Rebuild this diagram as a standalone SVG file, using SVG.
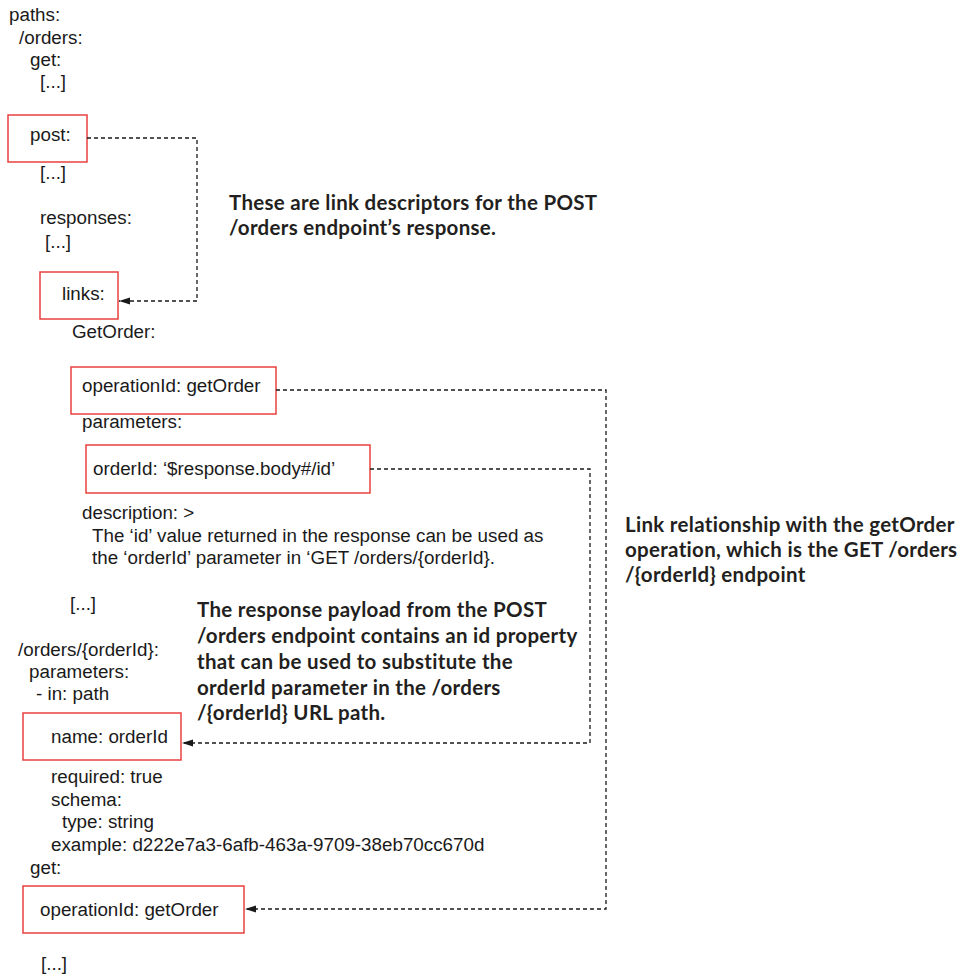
<svg xmlns="http://www.w3.org/2000/svg" width="961" height="978" viewBox="0 0 961 978">
<defs>
<style>
.c{font-family:"Liberation Sans",Arial,sans-serif;font-size:18.8px;fill:#1a1a1a}
.b{font-family:Lato,"Open Sans",sans-serif;font-weight:700;font-size:20.5px;letter-spacing:0.3px;fill:#231f20}
.box{fill:none;stroke:#e8403f;stroke-width:1.5}
.con{fill:none;stroke:#1a1a1a;stroke-width:1.3;stroke-dasharray:4 3}
</style>
<marker id="ah" markerWidth="12" markerHeight="8" refX="11" refY="4" orient="auto" markerUnits="userSpaceOnUse">
<path d="M0,0.5 L11,4 L0,7.5 Z" fill="#1a1a1a"/>
</marker>
</defs>
<rect width="961" height="978" fill="#fff"/>

<g id="code">
<text class="c" x="9" y="21">paths:</text>
<text class="c" x="19" y="44">/orders:</text>
<text class="c" x="30" y="66">get:</text>
<text class="c" x="40" y="88">[...]</text>
<text class="c" x="40" y="179">[...]</text>
<text class="c" x="40" y="224">responses:</text>
<text class="c" x="45" y="248">[...]</text>
<text class="c" x="72" y="338">GetOrder:</text>
<text class="c" x="82" y="428">parameters:</text>
<text class="c" x="82" y="519">description: &gt;</text>
<text class="c" x="92" y="542">The ‘id’ value returned in the response can be used as</text>
<text class="c" x="92" y="564">the ‘orderId’ parameter in ‘GET /orders/{orderId}.</text>
<text class="c" x="70" y="610">[...]</text>
<text class="c" x="18" y="656">/orders/{orderId}:</text>
<text class="c" x="29" y="678">parameters:</text>
<text class="c" x="36" y="700">- in: path</text>
<text class="c" x="51" y="783">required: true</text>
<text class="c" x="51" y="806">schema:</text>
<text class="c" x="62" y="828">type: string</text>
<text class="c" x="51" y="851">example: d222e7a3-6afb-463a-9709-38eb70cc670d</text>
<text class="c" x="30" y="874">get:</text>
<text class="c" x="41" y="970">[...]</text>
</g>

<g id="post">
<rect class="box" x="8" y="115" width="79" height="47"/>
<text class="c" x="30" y="141">post:</text>
</g>

<g id="links">
<rect class="box" x="40" y="272" width="78" height="47"/>
<text class="c" x="62" y="300">links:</text>
</g>

<g id="link-operationId">
<rect class="box" x="71" y="367" width="205" height="47"/>
<text class="c" x="82" y="392">operationId: getOrder</text>
</g>

<g id="link-orderId">
<rect class="box" x="86" y="445" width="284" height="48"/>
<text class="c" x="93" y="475">orderId: ‘$response.body#/id’</text>
</g>

<g id="param-name">
<rect class="box" x="23" y="713" width="158" height="47"/>
<text class="c" x="51" y="743">name: orderId</text>
</g>

<g id="get-operationId">
<rect class="box" x="23" y="886" width="221" height="47"/>
<text class="c" x="40" y="916">operationId: getOrder</text>
</g>

<g id="note-links">
<text class="b" x="229" y="209.5">These are link descriptors for the POST</text>
<text class="b" x="229" y="234.5">/orders endpoint’s response.</text>
</g>

<g id="note-link-relationship">
<text class="b" x="625" y="532">Link relationship with the getOrder</text>
<text class="b" x="625" y="557">operation, which is the GET /orders</text>
<text class="b" x="625" y="582">/{orderId} endpoint</text>
</g>

<g id="note-payload">
<text class="b" x="197" y="617">The response payload from the POST</text>
<text class="b" x="197" y="643">/orders endpoint contains an id property</text>
<text class="b" x="197" y="669">that can be used to substitute the</text>
<text class="b" x="197" y="694.5">orderId parameter in the /orders</text>
<text class="b" x="197" y="720">/{orderId} URL path.</text>
</g>

<g id="connectors">
<path class="con" d="M87,138 H197 V301 H119" marker-end="url(#ah)"/>
<path class="con" d="M276,390 H606 V909 H245" marker-end="url(#ah)"/>
<path class="con" d="M370,469 H590 V743 H182" marker-end="url(#ah)"/>
</g>
</svg>
